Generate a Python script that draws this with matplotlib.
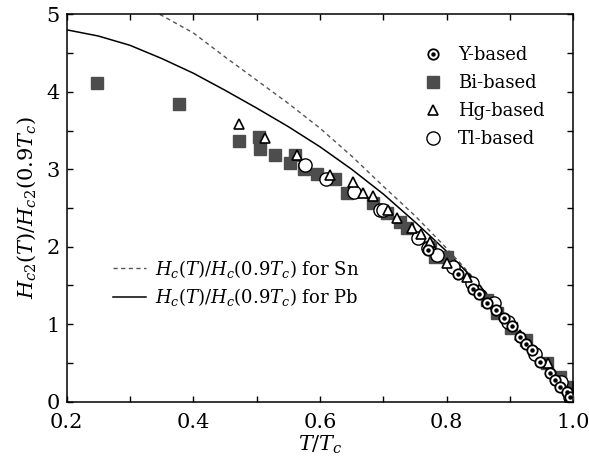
import matplotlib
matplotlib.use("Agg")
import matplotlib.pyplot as plt
from matplotlib.ticker import MultipleLocator
import numpy as np

plt.rcParams['font.family'] = ['DejaVu Serif']
plt.rcParams['mathtext.fontset'] = 'dejavuserif'
plt.rcParams['font.size'] = 13

# Hc(T)/Hc(0.9Tc) curves
pb_t = [0.2, 0.25, 0.3, 0.35, 0.4, 0.45, 0.5, 0.55, 0.6, 0.65, 0.7, 0.75, 0.8, 0.85, 0.9, 0.95, 1.0]
pb_h = [4.80, 4.72, 4.60, 4.43, 4.24, 4.02, 3.79, 3.55, 3.29, 3.00, 2.68, 2.32, 1.94, 1.52, 1.03, 0.53, 0.0]
sn_t = [0.347, 0.4, 0.45, 0.5, 0.55, 0.6, 0.65, 0.7, 0.75, 0.8, 0.85, 0.9, 0.95, 1.0]
sn_h = [5.0, 4.76, 4.45, 4.15, 3.85, 3.53, 3.17, 2.78, 2.40, 1.98, 1.53, 1.04, 0.53, 0.0]

# Hc2 data
bi_t = [0.248, 0.378, 0.472, 0.504, 0.506, 0.529, 0.552, 0.560, 0.575, 0.595, 0.624, 0.642,
        0.683, 0.705, 0.726, 0.737, 0.774, 0.782, 0.80, 0.863, 0.879, 0.902, 0.926, 0.958, 0.979, 0.99]
bi_h = [4.11, 3.84, 3.36, 3.42, 3.26, 3.18, 3.08, 3.18, 3.00, 2.94, 2.88, 2.69,
        2.56, 2.43, 2.32, 2.24, 2.00, 1.87, 1.87, 1.31, 1.14, 0.95, 0.80, 0.50, 0.32, 0.19]
tl_t = [0.577, 0.609, 0.653, 0.695, 0.70, 0.755, 0.771, 0.784, 0.81, 0.84, 0.874, 0.897, 0.94, 0.98, 0.995]
tl_h = [3.05, 2.88, 2.71, 2.47, 2.47, 2.11, 1.98, 1.89, 1.74, 1.53, 1.27, 1.03, 0.62, 0.26, 0.06]
hg_t = [0.472, 0.513, 0.564, 0.616, 0.652, 0.668, 0.683, 0.708, 0.721, 0.745, 0.76, 0.774,
        0.80, 0.832, 0.916, 0.96, 0.995]
hg_h = [3.59, 3.41, 3.18, 2.93, 2.84, 2.69, 2.65, 2.48, 2.37, 2.24, 2.17, 2.06,
        1.79, 1.61, 0.86, 0.50, 0.06]
y_t = [0.771, 0.818, 0.841, 0.851, 0.864, 0.878, 0.89, 0.903, 0.916, 0.926, 0.934,
       0.947, 0.963, 0.971, 0.979, 0.99, 0.994]
y_h = [1.96, 1.65, 1.45, 1.39, 1.28, 1.18, 1.08, 0.98, 0.84, 0.74, 0.67,
       0.51, 0.37, 0.28, 0.19, 0.12, 0.06]

fig = plt.figure(figsize=(5.89, 4.62), dpi=100)
ax = fig.add_axes([0.1132, 0.1305, 0.8602, 0.8385])

sn, = ax.plot(sn_t, sn_h, color='#555555', lw=1.0, ls=(0, (3, 2.5)))
pb, = ax.plot(pb_t, pb_h, color='black', lw=1.1)

bi, = ax.plot(bi_t, bi_h, 's', ms=8, mfc='#4d4d4d', mec='#4d4d4d', ls='none')
tl, = ax.plot(tl_t, tl_h, 'o', ms=9.5, mfc='white', mec='black', mew=1.0, ls='none')
hg, = ax.plot(hg_t, hg_h, '^', ms=7.5, mfc='white', mec='black', mew=1.2, ls='none')
yc, = ax.plot(y_t, y_h, 'o', ms=7.5, mfc='white', mec='black', mew=1.3, ls='none')
yd, = ax.plot(y_t, y_h, 'o', ms=2.2, mfc='black', mec='black', ls='none')

ax.set_xlim(0.2, 1.0)
ax.set_ylim(0, 5)
ax.xaxis.set_major_locator(MultipleLocator(0.2))
ax.xaxis.set_minor_locator(MultipleLocator(0.1))
ax.yaxis.set_major_locator(MultipleLocator(1))
ax.yaxis.set_minor_locator(MultipleLocator(0.5))
ax.xaxis.set_major_formatter(plt.FuncFormatter(lambda v, p: "%.1f" % v))
ax.tick_params(which='both', direction='in', top=True, right=True, length=4, width=1)
ax.tick_params(labelsize=15)
ax.tick_params(axis='x', pad=8)
ax.tick_params(axis='y', pad=5)
for s in ax.spines.values():
    s.set_linewidth(1.1)

ax.set_xlabel("$T/T_c$", fontsize=15, labelpad=1)
ax.set_ylabel("$H_{c2}(T)/H_{c2}(0.9T_c)$", fontsize=15, labelpad=6)

leg1 = ax.legend([(yc, yd), bi, hg, tl], ["Y-based", "Bi-based", "Hg-based", "Tl-based"],
                 loc='upper right', bbox_to_anchor=(0.975, 0.96), frameon=False,
                 fontsize=13, handlelength=1.0, handletextpad=0.9, labelspacing=0.55)
ax.add_artist(leg1)
ax.legend([sn, pb], ["$H_c(T)/H_c(0.9T_c)$ for Sn", "$H_c(T)/H_c(0.9T_c)$ for Pb"],
          loc='lower left', bbox_to_anchor=(0.06, 0.2), frameon=False,
          fontsize=13, handlelength=1.8, handletextpad=0.5, labelspacing=0.35)

fig.savefig("out.png", dpi=100)
